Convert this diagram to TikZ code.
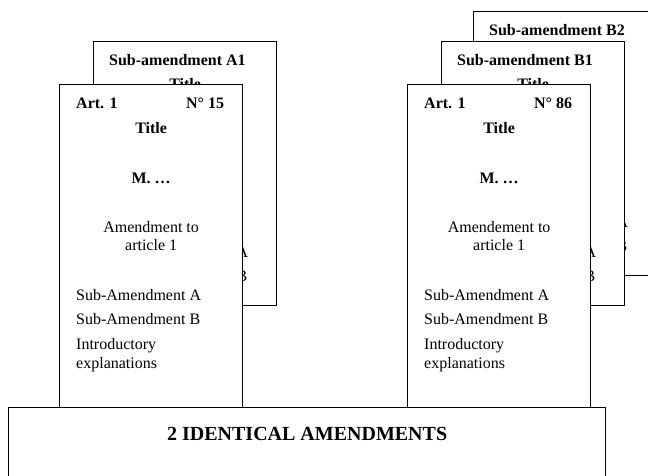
\documentclass[tikz,border=0pt]{standalone}
\usepackage{fontspec}
\setmainfont{Liberation Serif}
\usetikzlibrary{positioning}
\tikzset{
        every node/.style={inner sep=0pt, font=\fontsize{16}{18.5}\selectfont}, % plain text everywhere
        page/.style={draw, fill=white, line width=1.3pt, anchor=north west}, % one sheet of paper
        head/.style={font=\bfseries\fontsize{16}{18.5}\selectfont}, % bold lines on a sheet
    }
\tikzstyle{total}=[font=\bfseries\fontsize{20}{24}\selectfont, anchor=base]

% a sub-amendment sheet: name, top left corner, label, title (empty when hidden)
\newcommand{\backsheet}[4]{
    \node[page, minimum width=183pt, minimum height=264pt] (#1) at (#2) {};
    \node[head, anchor=base west] (#1head) at ([shift={(16,25)}]#1.north west) {#3};
    \node[head, anchor=base] (#1title) at ([shift={(0,49)}]#1.north) {#4};
    \node[anchor=base west] (#1subA) at ([shift={(30,216)}]#1.north west) {Sub-Amendment A};
    \node[anchor=base west] (#1subB) at ([shift={(30,240)}]#1.north west) {Sub-Amendment B};
}
% an amendment sheet: name, top left corner, number, first line of the text
\newcommand{\frontsheet}[4]{
    \node[page, minimum width=183pt, minimum height=340pt] (#1) at (#2) {};
    \node[head, anchor=base west] (#1art) at ([shift={(17,25)}]#1.north west) {Art. 1};
    \node[head, anchor=base east] (#1no) at ([shift={(-19,25)}]#1.north east) {N° #3};
    \node[head, anchor=base] (#1title) at ([shift={(0,50)}]#1.north) {Title};
    \node[head, anchor=base] (#1mp) at ([shift={(0,99)}]#1.north) {M. …};
    \node[anchor=base] (#1txt) at ([shift={(0,148)}]#1.north) {#4};
    \node[anchor=base] (#1art1) at ([shift={(0,166)}]#1.north) {article 1};
    \node[anchor=base west] (#1subA) at ([shift={(17,216)}]#1.north west) {Sub-Amendment A};
    \node[anchor=base west] (#1subB) at ([shift={(17,240)}]#1.north west) {Sub-Amendment B};
    \node[anchor=base west] (#1intro) at ([shift={(17,265)}]#1.north west) {Introductory};
    \node[anchor=base west] (#1expl) at ([shift={(17,284)}]#1.north west) {explanations};
}

\begin{document}
\begin{tikzpicture}[x=1pt, y=-1pt]
    \useasboundingbox (0,0) rectangle (648,476);
    \clip (0,0) rectangle (648,476);

    % left pile
    \backsheet{subA1}{93,41}{Sub-amendment A1}{Title}
    \frontsheet{amd15}{59,84}{15}{Amendment to}

    % right pile
    \backsheet{subB2}{473,11}{Sub-amendment B2}{}
    \backsheet{subB1}{441,41}{Sub-amendment B1}{Title}
    \frontsheet{amd86}{407,84}{86}{Amendement to}

    % common box
    \node[page, minimum width=597pt, minimum height=90pt] (box) at (8,407) {};
    \node[total] (boxtext) at ([shift={(0,33)}]box.north) {2 IDENTICAL AMENDMENTS};
\end{tikzpicture}
\end{document}
